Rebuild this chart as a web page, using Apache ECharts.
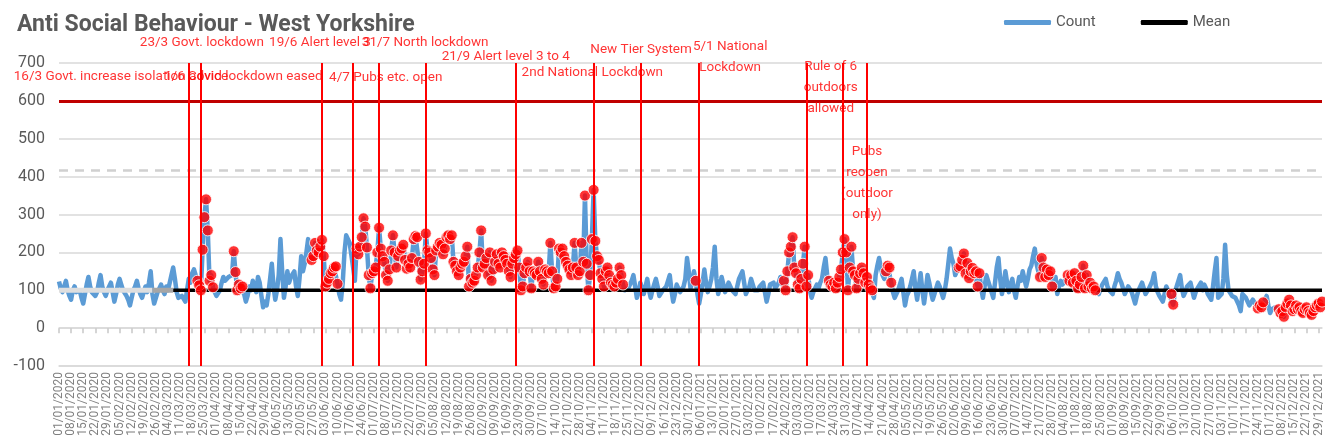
<!DOCTYPE html>
<html>
<head>
<meta charset="utf-8">
<script src="https://cdn.jsdelivr.net/npm/echarts@6/dist/echarts.min.js"></script>
<style>
  html, body { margin: 0; padding: 0; background: #fff; }
  #chart { width: 1325px; height: 447px; }
</style>
</head>
<body>
<div id="chart"></div>
<script>
// daily counts, 01/01/2020 - 31/12/2020
const counts2020 = [
  123,105,95,110,125,100,85,75,100,110, 95,90,100,80,65,90,115,135,110,95,
  100,85,95,120,140,110,95,85,100,110, 120,95,70,90,115,130,115,100,95,85,
  75,60,80,100,110,125,105,90,80,95, 110,95,120,150,90,65,80,95,105,115,
  100,90,110,100,120,140,160,130,95,80, 75,85,80,70,100,130,120,145,155,140,
  125,113,100,207,293,340,258,125,140,108, 95,85,80,100,120,135,125,120,135,130,
  140,203,148,100,115,105,110,90,70,85, 110,100,125,110,95,135,120,85,55,70,
  60,90,130,170,110,75,100,140,235,150, 80,110,150,120,135,140,150,110,85,130,
  190,150,170,200,235,205,180,190,225,205, 200,215,233,190,110,120,130,145,150,160,
  163,117,90,75,120,200,245,235,225,230, 160,125,210,195,215,240,290,268,213,140,
  105,145,150,160,200,265,210,190,175,140, 125,155,205,245,200,160,190,205,210,220,
  180,157,170,160,185,235,243,240,175,128, 150,170,250,205,200,185,155,140,205,215,
  225,220,195,210,240,245,235,245,175,165, 150,140,160,170,175,190,215,110,130,120,
  125,140,160,200,258,160,170,185,140,200, 125,155,175,195,170,160,200,190,180,170,
  150,135,170,185,195,205,160,100,110,145, 160,175,150,105,150,145,140,175,150,130,
  115,155,150,145,225,150,105,110,130,210, 200,210,190,175,165,155,140,160,225,160,
  140,150,225,175,350,170,100,140,235,365, 230,190,180,145,130,110,150,160,140,120,
  115,110,120,130,160,140,115,100,95,105, 115,125,140,110,80,95,120,105,90,110,
  130,100,80,100,95,130,110,85,90,100, 95,110,125,140,100,70,90,115,105,95,
  100,110,130,185,150,105
];
// daily counts, 01/01/2021 - 31/12/2021
const counts2021 = [
  120,150,125,90,
  65,90,120,155,120,95,110,130,160,215, 130,90,110,135,115,95,105,120,125,100,
  95,90,95,130,140,150,120,90,100,110, 130,115,100,95,100,110,115,120,95,70,
  90,115,110,120,105,110,120,135,115,125, 100,150,200,215,240,160,145,115,105,130,
  170,215,110,140,100,80,95,90,115,105, 120,130,160,185,140,125,115,110,120,105,
  120,135,155,200,235,200,100,160,215,150, 140,105,130,145,160,145,120,135,115,105,
  100,80,140,165,185,160,140,130,150,165, 160,120,95,80,90,100,115,130,95,60,
  85,95,110,130,150,105,75,110,145,100, 65,100,140,120,95,75,90,105,120,110,
  95,80,100,130,170,210,185,170,140,150, 160,163,180,197,144,172,132,150,159,145,
  150,110,145,105,80,110,140,125,110,95, 80,120,160,185,130,90,115,150,120,95,
  115,130,100,80,110,135,125,150,130,110, 130,155,165,190,210,170,150,135,185,160,
  135,155,140,150,110,120,135,90,110,125, 115,120,130,140,125,140,120,145,125,105,
  115,135,165,105,140,110,120,105,110,100, 95,90,85,115,120,130,110,100,95,90,
  110,125,145,130,120,105,90,100,110,115, 95,80,65,85,100,110,120,105,90,95,
  105,115,125,145,110,95,85,80,70,90, 110,100,85,90,62,95,110,125,140,105,
  85,95,110,115,120,125,80,95,105,110, 120,100,115,105,90,85,75,110,150,185,
  80,85,90,130,220,140,100,95,85,90, 80,70,60,45,90,85,80,70,60,65,
  75,70,60,52,60,55,68,75,85,60, 40,50,45,55,55,50,40,45,30,55,
  65,75,60,45,50,60,50,55,45,40, 50,55,45,40,35,45,55,60,65,55,
  70
];

const meanValue = 100;
const upperLimit = 416;
const threshold = 600;
const baselineEnd = '07/03/2020';   // mean drawn black from here on
const baselineShade = '24/02/2020';

// runs of points flagged as special cause (red dots)
const signalRuns = [
  ['21/03/2020', '30/03/2020'], ['11/04/2020', '16/04/2020'],
  ['26/05/2020', '10/06/2020'], ['21/06/2020', '22/11/2020'],
  ['03/01/2021', '03/01/2021'], ['23/02/2021', '09/03/2021'],
  ['21/03/2021', '15/04/2021'], ['23/04/2021', '26/04/2021'],
  ['04/06/2021', '16/06/2021'], ['21/07/2021', '28/07/2021'],
  ['06/08/2021', '22/08/2021'], ['05/10/2021', '06/10/2021'],
  ['24/11/2021', '27/11/2021'], ['06/12/2021', '31/12/2021']
];

// vertical event lines
const eventDates = [
  '16/03/2020', '23/03/2020', '01/06/2020', '19/06/2020', '04/07/2020',
  '31/07/2020', '21/09/2020', '05/11/2020', '02/12/2020', '05/01/2021',
  '08/03/2021', '29/03/2021', '12/04/2021'
];

// event text: [date, y value, text, align, x offset]
const eventNotes = [
  ['16/03/2020', 663, '16/3 Govt. increase isolation advice', 'left', -175],
  ['23/03/2020', 753, '23/3 Govt. lockdown', 'left', -61],
  ['01/06/2020', 663, '1/6 Covid lockdown eased', 'left', -158],
  ['19/06/2020', 753, '19/6 Alert level 3', 'left', -84],
  ['04/07/2020', 661, '4/7 Pubs etc. open', 'left', -50],
  ['31/07/2020', 753, '31/7 North lockdown', 'left', -64],
  ['21/09/2020', 716, '21/9 Alert level 3 to 4', 'left', -74],
  ['05/11/2020', 674, '2nd National Lockdown', 'left', -72],
  ['02/12/2020', 734, 'New Tier System', 'left', -50],
  ['05/01/2021', 716, '5/1 National\nLockdown', 'center', 31],
  ['29/03/2021', 634, 'Rule of 6\noutdoors\nallowed', 'center', -12],
  ['12/04/2021', 383, 'Pubs\nreopen\n(outdoor\nonly)', 'center', 0]
];

const counts = counts2020.concat(counts2021);
const pad = n => (n < 10 ? '0' : '') + n;
const dates = counts.map((_, i) => {
  const dt = new Date(Date.UTC(2020, 0, 1 + i));
  return pad(dt.getUTCDate()) + '/' + pad(dt.getUTCMonth() + 1) + '/' + dt.getUTCFullYear();
});
const idx = d => dates.indexOf(d);

const signals = [];
signalRuns.forEach(([a, b]) => {
  for (let i = idx(a); i <= idx(b); i++) signals.push([dates[i], counts[i]]);
});

const meanStart = idx(baselineEnd);
const shadeStart = idx(baselineShade);
const meanLine = dates.map((_, i) => (i >= meanStart ? meanValue : null));
const baseLight = dates.map((_, i) => (i <= shadeStart ? meanValue : null));
const baseDark = dates.map((_, i) => (i >= shadeStart && i <= meanStart ? meanValue : null));

const txt = '#595959';
const font = 'Roboto';

const chart = echarts.init(document.getElementById('chart'));
chart.setOption({
  animation: false,
  title: {
    text: 'Anti Social Behaviour - West Yorkshire',
    left: 12, top: 9,
    textStyle: { fontSize: 23, fontWeight: 'bold', color: txt, fontFamily: font }
  },
  legend: {
    data: ['Count', 'Mean'],
    left: 999, top: 10,
    icon: 'roundRect',
    itemWidth: 47, itemHeight: 5, itemGap: 45,
    textStyle: { fontSize: 15, color: txt, fontFamily: font }
  },
  grid: { left: 59, right: 3, top: 63, bottom: 81, containLabel: false },
  xAxis: [
    {
      type: 'category', data: dates, boundaryGap: false,
      axisLine: { onZero: false, lineStyle: { color: '#D9D9D9', width: 1.5 } },
      axisTick: { show: false },
      axisLabel: { interval: 6, rotate: 90, fontSize: 12, color: '#7F7F7F', margin: 6, fontFamily: font }
    },
    {
      type: 'category', data: dates, boundaryGap: false, position: 'top',
      axisLine: { onZero: true, lineStyle: { color: '#D9D9D9', width: 1.5 } },
      axisTick: { interval: 6, inside: true, length: 5, lineStyle: { color: '#C8C8C8', width: 1.5 } },
      axisLabel: { show: false }
    }
  ],
  yAxis: {
    type: 'value', min: -100, max: 700, interval: 100,
    axisLine: { show: false }, axisTick: { show: false },
    axisLabel: { fontSize: 16, color: txt, margin: 14, fontFamily: font },
    splitLine: { lineStyle: { color: '#D9D9D9', width: 1.5 } }
  },
  series: [
    {
      name: 'Count', type: 'line', data: counts,
      showSymbol: false, symbol: 'none',
      lineStyle: { color: '#5B9BD5', width: 4.5, join: 'round' },
      itemStyle: { color: '#5B9BD5' },
      z: 2,
      markLine: {
        silent: true, symbol: 'none', label: { show: false },
        data: [
          { yAxis: threshold, lineStyle: { color: '#C00000', width: 3, type: 'solid' } },
          { yAxis: upperLimit, lineStyle: { color: '#D0D0D0', width: 2.5, type: [9, 7] } }
        ]
      }
    },
    {
      name: 'Baseline', type: 'line', data: baseLight, symbol: 'none',
      lineStyle: { color: '#DEDEDE', width: 5 }, z: 3
    },
    {
      name: 'BaselineEnd', type: 'line', data: baseDark, symbol: 'none',
      lineStyle: { color: '#A6A6A6', width: 5 }, z: 3
    },
    {
      name: 'Mean', type: 'line', data: meanLine, symbol: 'none',
      lineStyle: { color: '#000000', width: 3.5 },
      itemStyle: { color: '#000000' }, z: 3
    },
    {
      name: 'Signal', type: 'scatter', data: signals,
      symbolSize: 11,
      itemStyle: { color: '#FF0000', borderColor: '#FFFFFF', borderWidth: 1 },
      z: 4
    },
    {
      name: 'Events', type: 'scatter', clip: false, silent: true,
      symbolSize: 1, itemStyle: { color: 'transparent' },
      data: eventNotes.map(([d, v, text, align, dx]) => ({
        value: [d, v],
        label: {
          show: true, position: 'inside', formatter: text,
          align: align, offset: [dx, 0],
          color: '#FF0000', fontSize: 13.5, lineHeight: 21, fontFamily: font
        }
      })),
      markLine: {
        silent: true, symbol: 'none', label: { show: false },
        lineStyle: { color: '#FF0000', width: 2, type: 'solid' },
        data: eventDates.map(d => ({ xAxis: d }))
      },
      z: 6
    }
  ]
});
</script>
</body>
</html>
